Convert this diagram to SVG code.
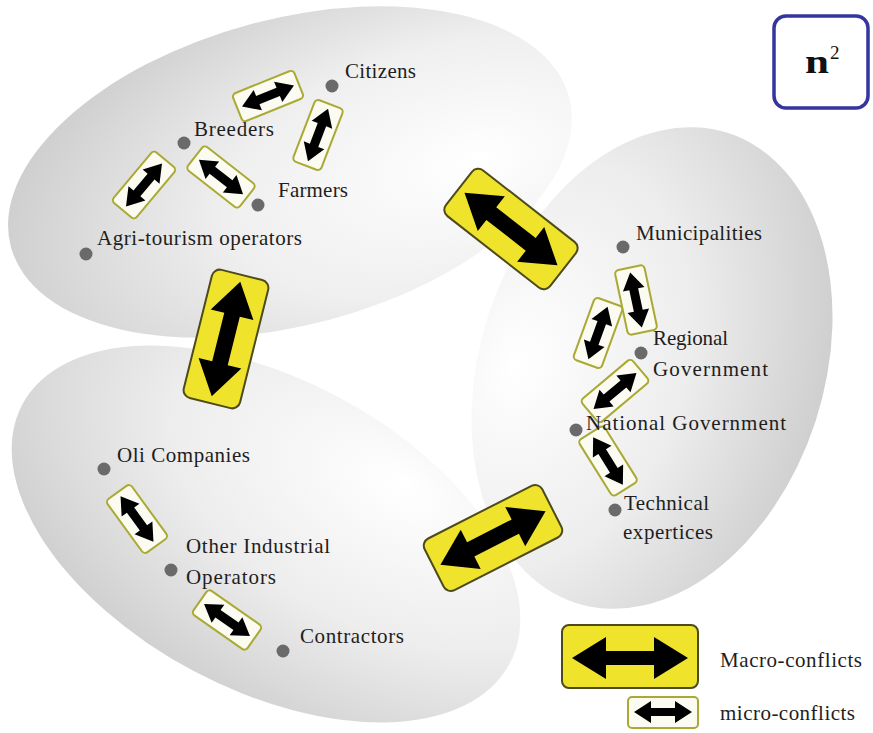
<svg xmlns="http://www.w3.org/2000/svg" width="873" height="733" viewBox="0 0 873 733">
<style>
.lbl{font-family:"Liberation Serif","Times New Roman",serif;font-size:21px;fill:#1e1e1e;}
.dot{fill:#6a6a6a;}
.macro{fill:#efe32b;stroke:#4d4a1c;stroke-width:2;}
.micro{fill:#fbfbf2;stroke:#aaa934;stroke-width:2;}
.arr{fill:#000;}
</style>
<defs>
<radialGradient id="gTop" cx="0.72" cy="0.62" r="0.8" fx="0.82" fy="0.62">
<stop offset="0" stop-color="#ffffff"/><stop offset="0.5" stop-color="#efefef"/><stop offset="1" stop-color="#cbcbcb"/>
</radialGradient>
<radialGradient id="gRight" cx="0.25" cy="0.55" r="0.85" fx="0.12" fy="0.58">
<stop offset="0" stop-color="#ffffff"/><stop offset="0.5" stop-color="#ededed"/><stop offset="1" stop-color="#c8c8c8"/>
</radialGradient>
<radialGradient id="gBot" cx="0.62" cy="0.3" r="0.82" fx="0.68" fy="0.15">
<stop offset="0" stop-color="#ffffff"/><stop offset="0.5" stop-color="#ededed"/><stop offset="1" stop-color="#cacaca"/>
</radialGradient>
<g id="macroSign">
<rect x="-66" y="-29" width="132" height="58" rx="8" class="macro"/>
<path class="arr" d="M-59,0 L-25,-22 L-25,-8 L25,-8 L25,-22 L59,0 L25,22 L25,8 L-25,8 L-25,22 Z"/>
</g>
<g id="microSign">
<rect x="-33" y="-15" width="66" height="30" rx="4" class="micro"/>
<path class="arr" d="M-28,0 L-11,-11 L-11,-4.5 L11,-4.5 L11,-11 L28,0 L11,11 L11,4.5 L-11,4.5 L-11,11 Z"/>
</g>
</defs>

<rect x="0" y="0" width="873" height="733" fill="#ffffff"/>

<g id="regions">
<ellipse cx="290" cy="172" rx="289" ry="153" transform="rotate(-15 290 172)" fill="url(#gTop)"/>
<ellipse cx="652" cy="368" rx="172" ry="247" transform="rotate(18 652 368)" fill="url(#gRight)"/>
<ellipse cx="266" cy="534" rx="276" ry="155" transform="rotate(28 266 534)" fill="url(#gBot)"/>
</g>

<g id="connectors">
<use href="#macroSign" transform="translate(511,229) rotate(38)"/>
<use href="#macroSign" transform="translate(226,339) rotate(104)"/>
<use href="#macroSign" transform="translate(493,538) rotate(-27)"/>
<use href="#microSign" transform="translate(268,96) rotate(-22)"/>
<use href="#microSign" transform="translate(318,135) rotate(111)"/>
<use href="#microSign" transform="translate(144,185) rotate(-50)"/>
<use href="#microSign" transform="translate(221,177) rotate(38)"/>
<use href="#microSign" transform="translate(636,300) rotate(78)"/>
<use href="#microSign" transform="translate(598,333) rotate(-70)"/>
<use href="#microSign" transform="translate(615,391) rotate(-40)"/>
<use href="#microSign" transform="translate(608,461) rotate(58)"/>
<use href="#microSign" transform="translate(137,519) rotate(54)"/>
<use href="#microSign" transform="translate(227,620) rotate(35)"/>
</g>

<g id="citizens"><circle class="dot" cx="332" cy="86" r="6.5"/><text class="lbl" x="345" y="78" textLength="71">Citizens</text></g>
<g id="breeders"><circle class="dot" cx="184" cy="143" r="6.5"/><text class="lbl" x="194" y="136" textLength="80">Breeders</text></g>
<g id="farmers"><circle class="dot" cx="258" cy="205" r="6.5"/><text class="lbl" x="278" y="197" textLength="70">Farmers</text></g>
<g id="agri-tourism"><circle class="dot" cx="86" cy="254" r="6.5"/><text class="lbl" x="97" y="245" textLength="205">Agri-tourism operators</text></g>

<g id="municipalities"><circle class="dot" cx="623" cy="247" r="6.5"/><text class="lbl" x="636" y="240" textLength="126">Municipalities</text></g>
<g id="regional-government"><circle class="dot" cx="641" cy="353" r="6.5"/><text class="lbl" x="653" y="345" textLength="75">Regional</text><text class="lbl" x="653" y="376" textLength="115">Government</text></g>
<g id="national-government"><circle class="dot" cx="576" cy="430" r="6.5"/><text class="lbl" x="586" y="430" textLength="200">National Government</text></g>
<g id="technical-expertices"><circle class="dot" cx="615" cy="510" r="6.5"/><text class="lbl" x="624" y="510" textLength="85">Technical</text><text class="lbl" x="623" y="539" textLength="90">expertices</text></g>

<g id="oil-companies"><circle class="dot" cx="104" cy="469" r="6.5"/><text class="lbl" x="117" y="462" textLength="133">Oli Companies</text></g>
<g id="other-industrial"><circle class="dot" cx="171" cy="570" r="6.5"/><text class="lbl" x="186" y="553" textLength="144">Other Industrial</text><text class="lbl" x="186" y="584" textLength="90">Operators</text></g>
<g id="contractors"><circle class="dot" cx="283" cy="651" r="6.5"/><text class="lbl" x="300" y="643" textLength="104">Contractors</text></g>

<g id="n2-box">
<rect x="774" y="16" width="94" height="92" rx="12" fill="#ffffff" stroke="#3535a0" stroke-width="3.5"/>
<text x="805" y="73" font-family="Liberation Serif, serif" font-weight="bold" font-size="34" fill="#111" textLength="24" lengthAdjust="spacingAndGlyphs">n</text>
<text x="830" y="59" font-family="Liberation Serif, serif" font-size="19" fill="#111">2</text>
</g>

<g id="legend">
<rect x="562" y="625" width="136" height="63" rx="7" class="macro"/>
<path class="arr" d="M572,658 L606,637 L606,651 L654,651 L654,637 L688,658 L654,679 L654,665 L606,665 L606,679 Z"/>
<text class="lbl" x="720" y="667" textLength="142">Macro-conflicts</text>
<rect x="628" y="697" width="70" height="31" rx="4" class="micro"/>
<path class="arr" d="M634,712 L651,701 L651,708 L675,708 L675,701 L692,712 L675,723 L675,716 L651,716 L651,723 Z"/>
<text class="lbl" x="720" y="720" textLength="135">micro-conflicts</text>
</g>
</svg>
